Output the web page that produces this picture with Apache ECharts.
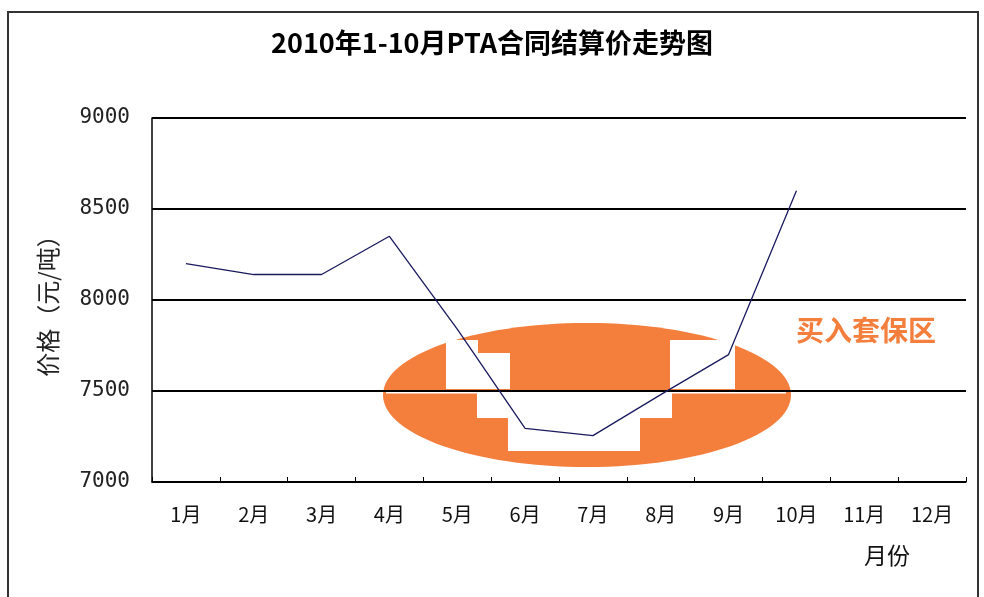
<!DOCTYPE html>
<html><head><meta charset="utf-8">
<script src="https://cdn.jsdelivr.net/npm/echarts@6/dist/echarts.min.js"></script>
<style>html,body{margin:0;padding:0;background:#fff}#c{width:984px;height:597px}</style>
</head><body><div id="c"></div>
<script>
const categories = ['1月','2月','3月','4月','5月','6月','7月','8月','9月','10月','11月','12月'];
const prices = [8200, 8140, 8140, 8350, 7840, 7295, 7255, 7480, 7700, 8600, null, null];
const yTicks = [7000, 7500, 8000, 8500, 9000];
const titleText = '2010年1-10月PTA合同结算价走势图';
const yName = '价格（元/吨）';
const xName = '月份';
const noteText = '买入套保区';

const chart = echarts.init(document.getElementById('c'));
const F = '"Noto Sans CJK SC", sans-serif';
const ORANGE = '#F47E3C';
chart.setOption({
  animation: false,
  backgroundColor: '#fff',
  title: { text: titleText, left: 'center', top: 24,
    textStyle: { fontFamily: F, fontSize: 27, fontWeight: 'bold', color: '#000' } },
  grid: { left: 152, right: 18, top: 118, bottom: 115 },
  xAxis: {
    type: 'category', data: categories, boundaryGap: true,
    axisLine: { lineStyle: { color: '#000', width: 1.5 } },
    axisTick: { show: true, inside: true, length: 5, alignWithLabel: false, lineStyle: { color: '#000' } },
    axisLabel: { margin: 22, fontFamily: F, fontSize: 20, color: '#111' },
    splitLine: { show: false }
  },
  yAxis: {
    type: 'value', min: yTicks[0], max: yTicks[yTicks.length-1], interval: 500,
    name: yName, nameLocation: 'middle', nameGap: 92,
    nameTextStyle: { fontFamily: F, fontSize: 24, color: '#222' },
    axisLine: { show: true, lineStyle: { color: '#000', width: 1.5 } },
    axisTick: { show: false },
    axisLabel: { margin: 22, fontFamily: '"DejaVu Sans Mono", monospace', fontSize: 21, color: '#222',
      formatter: v => String(v) },
    splitLine: { show: true, lineStyle: { color: '#000', width: 2 } }
  },
  series: [{
    type: 'line', data: prices, symbol: 'none', z: 5,
    lineStyle: { color: '#1a1a5e', width: 1.3 }
  }],
  graphic: [
    { type: 'rect', z: -10, shape: { x: 8, y: 12, width: 970, height: 590 },
      style: { fill: 'none', stroke: '#333', lineWidth: 2 } },
    { type: 'ellipse', z: -10, shape: { cx: 587, cy: 395, rx: 204, ry: 72 },
      style: { fill: ORANGE } },
    { type: 'polygon', z: -9, shape: { points: [[446,340],[478,340],[478,353],[510,353],[510,389],[446,389]] }, style: { fill: '#fff' } },
    { type: 'rect', z: -9, shape: { x: 670, y: 340, width: 65, height: 49 }, style: { fill: '#fff' } },
    { type: 'rect', z: -9, shape: { x: 477, y: 392, width: 195, height: 26 }, style: { fill: '#fff' } },
    { type: 'rect', z: -9, shape: { x: 508, y: 417, width: 132, height: 34 }, style: { fill: '#fff' } },
    { type: 'rect', z: -9, shape: { x: 386, y: 392, width: 400, height: 1.5 }, style: { fill: '#fff' } },
    { type: 'text', z: 10, left: 796, top: 316,
      style: { text: noteText, fontFamily: F, fontSize: 28, fontWeight: 'bold', fill: ORANGE } },
    { type: 'text', z: 10, left: 864, top: 544,
      style: { text: xName, fontFamily: F, fontSize: 23, fill: '#111' } }
  ]
});
</script></body></html>
